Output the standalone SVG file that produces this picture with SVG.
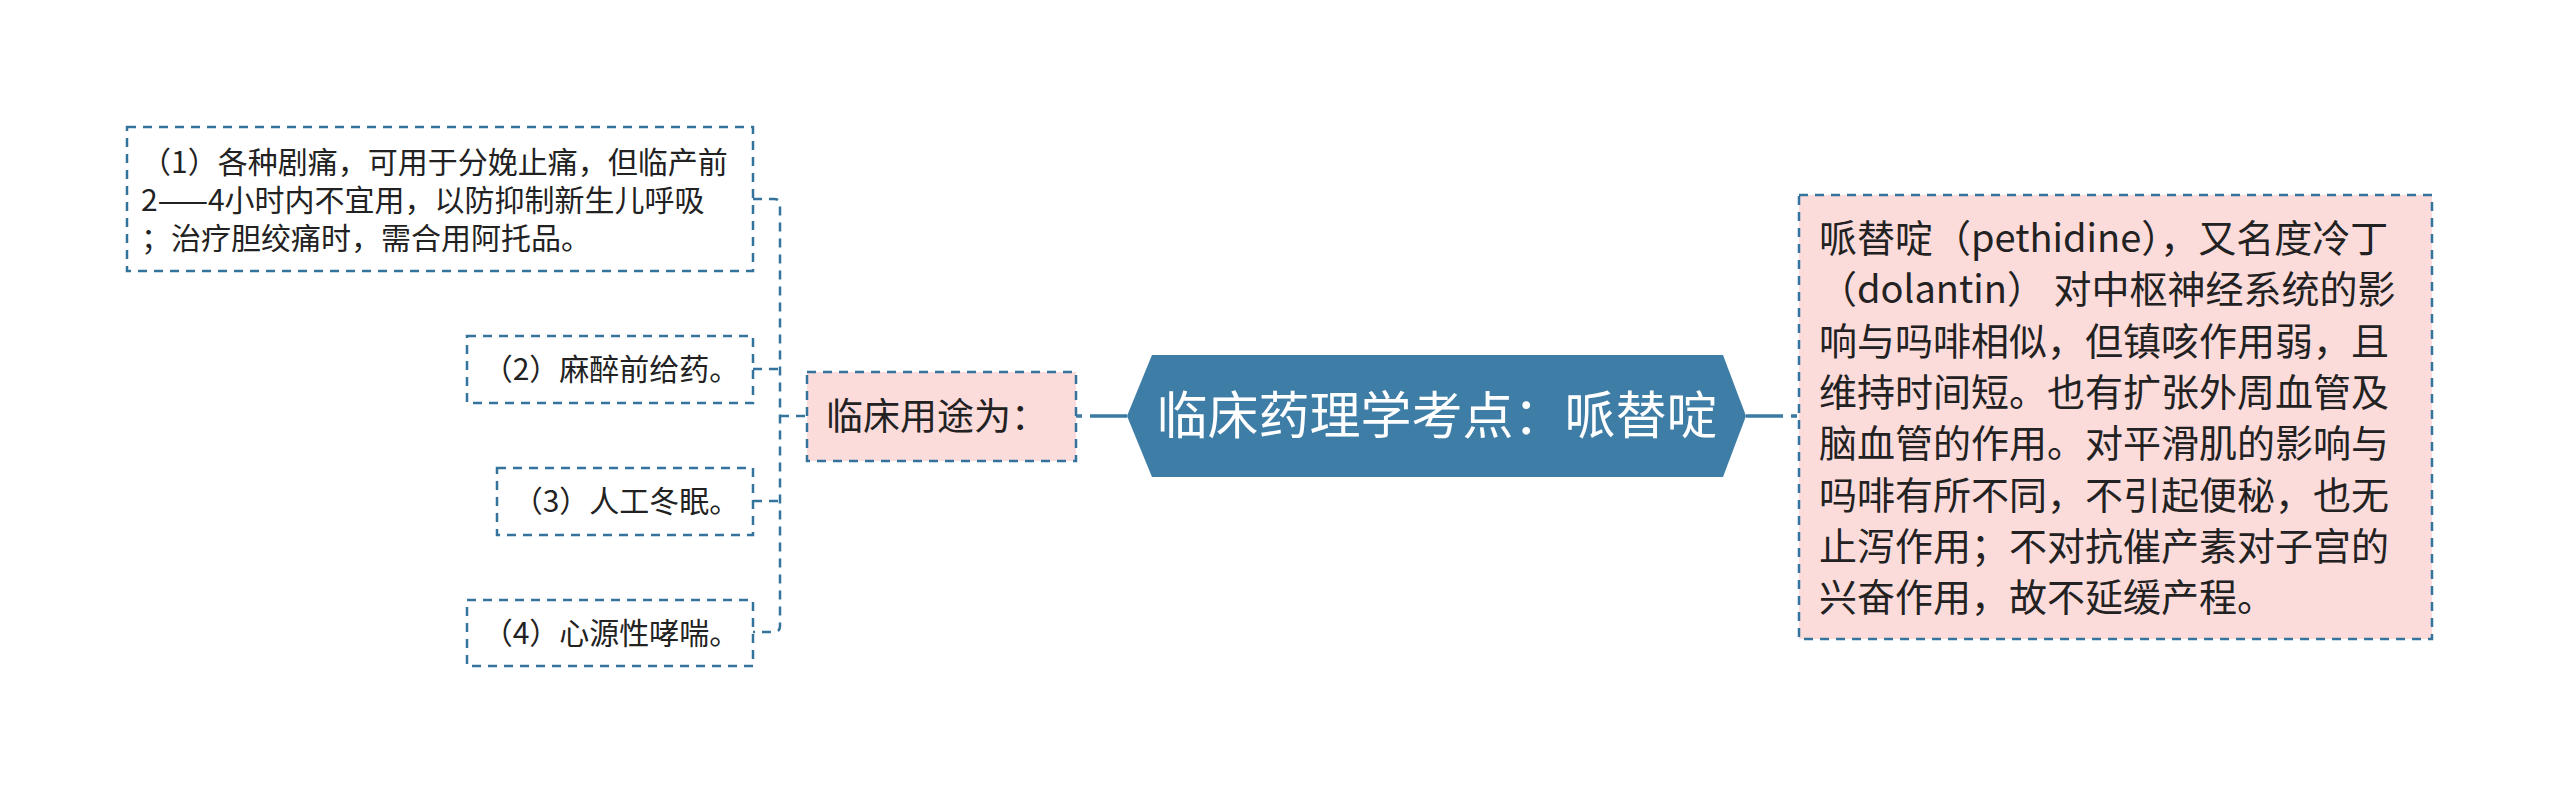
<svg xmlns="http://www.w3.org/2000/svg" width="2560" height="795" viewBox="0 0 2560 795">
<style>
.box{fill:#ffffff;stroke:#33739c;stroke-width:2.5;stroke-dasharray:9 7}
.pink{fill:#fcdbdb;stroke:#33739c;stroke-width:2.5;stroke-dasharray:9 7}
.t{font-family:"Noto Sans CJK SC","Microsoft YaHei","Noto Sans",sans-serif;fill:#222222}
.leaf{font-size:30px}
.mid{font-size:37px}
.big{font-size:38px}
.title{font-size:51px;fill:#ffffff}
.conn{fill:none;stroke:#33739c;stroke-width:2.5;stroke-dasharray:9 7}
.main{fill:none;stroke:#3a7aa3;stroke-width:3.5}
</style>
<rect width="2560" height="795" fill="#ffffff"/>
<g id="connectors">
<path class="conn" d="M753 199 H774 Q780 199 780 205 V626 Q780 632 774 632 H753"/>
<path class="conn" d="M753 369 H780"/>
<path class="conn" d="M753 501 H780"/>
<path class="conn" d="M780 416 H807"/>
<path class="main" d="M1127 416 H1076" stroke-dasharray="37 8 6 30"/>
<path class="main" d="M1746 416 H1799" stroke-dasharray="37 8 6 30"/>
</g>
<g id="root">
<polygon points="1127,416 1152,355 1723,355 1746,416 1723,477 1152,477" fill="#3e7da6"/>
<text class="t title" x="1437" y="434" text-anchor="middle">临床药理学考点：哌替啶</text>
</g>
<g id="uses">
<rect class="pink" x="807" y="372" width="269" height="89"/>
<text class="t mid" x="826" y="430">临床用途为：</text>
</g>
<g id="leaf1">
<rect class="box" x="127" y="127" width="626" height="144"/>
<text class="t leaf" x="141" y="173">（1）各种剧痛，可用于分娩止痛，但临产前</text>
<text class="t leaf" x="141" y="211">2——4小时内不宜用，以防抑制新生儿呼吸</text>
<text class="t leaf" x="141" y="249">；治疗胆绞痛时，需合用阿托品。</text>
</g>
<g id="leaf2">
<rect class="box" x="467" y="336" width="286" height="67"/>
<text class="t leaf" x="611" y="380" text-anchor="middle">（2）麻醉前给药。</text>
</g>
<g id="leaf3">
<rect class="box" x="497" y="468" width="256" height="67"/>
<text class="t leaf" x="626" y="512" text-anchor="middle">（3）人工冬眠。</text>
</g>
<g id="leaf4">
<rect class="box" x="467" y="600" width="286" height="66"/>
<text class="t leaf" x="611" y="644" text-anchor="middle">（4）心源性哮喘。</text>
</g>
<g id="desc">
<rect class="pink" x="1799" y="195" width="633" height="444"/>
<text class="t big" x="1819" y="252">哌替啶（pethidine），又名度冷丁</text>
<text class="t big" x="1819" y="303">（dolantin） 对中枢神经系统的影</text>
<text class="t big" x="1819" y="355">响与吗啡相似，但镇咳作用弱，且</text>
<text class="t big" x="1819" y="406">维持时间短。也有扩张外周血管及</text>
<text class="t big" x="1819" y="457">脑血管的作用。对平滑肌的影响与</text>
<text class="t big" x="1819" y="509">吗啡有所不同，不引起便秘，也无</text>
<text class="t big" x="1819" y="560">止泻作用；不对抗催产素对子宫的</text>
<text class="t big" x="1819" y="611">兴奋作用，故不延缓产程。</text>
</g>
</svg>
